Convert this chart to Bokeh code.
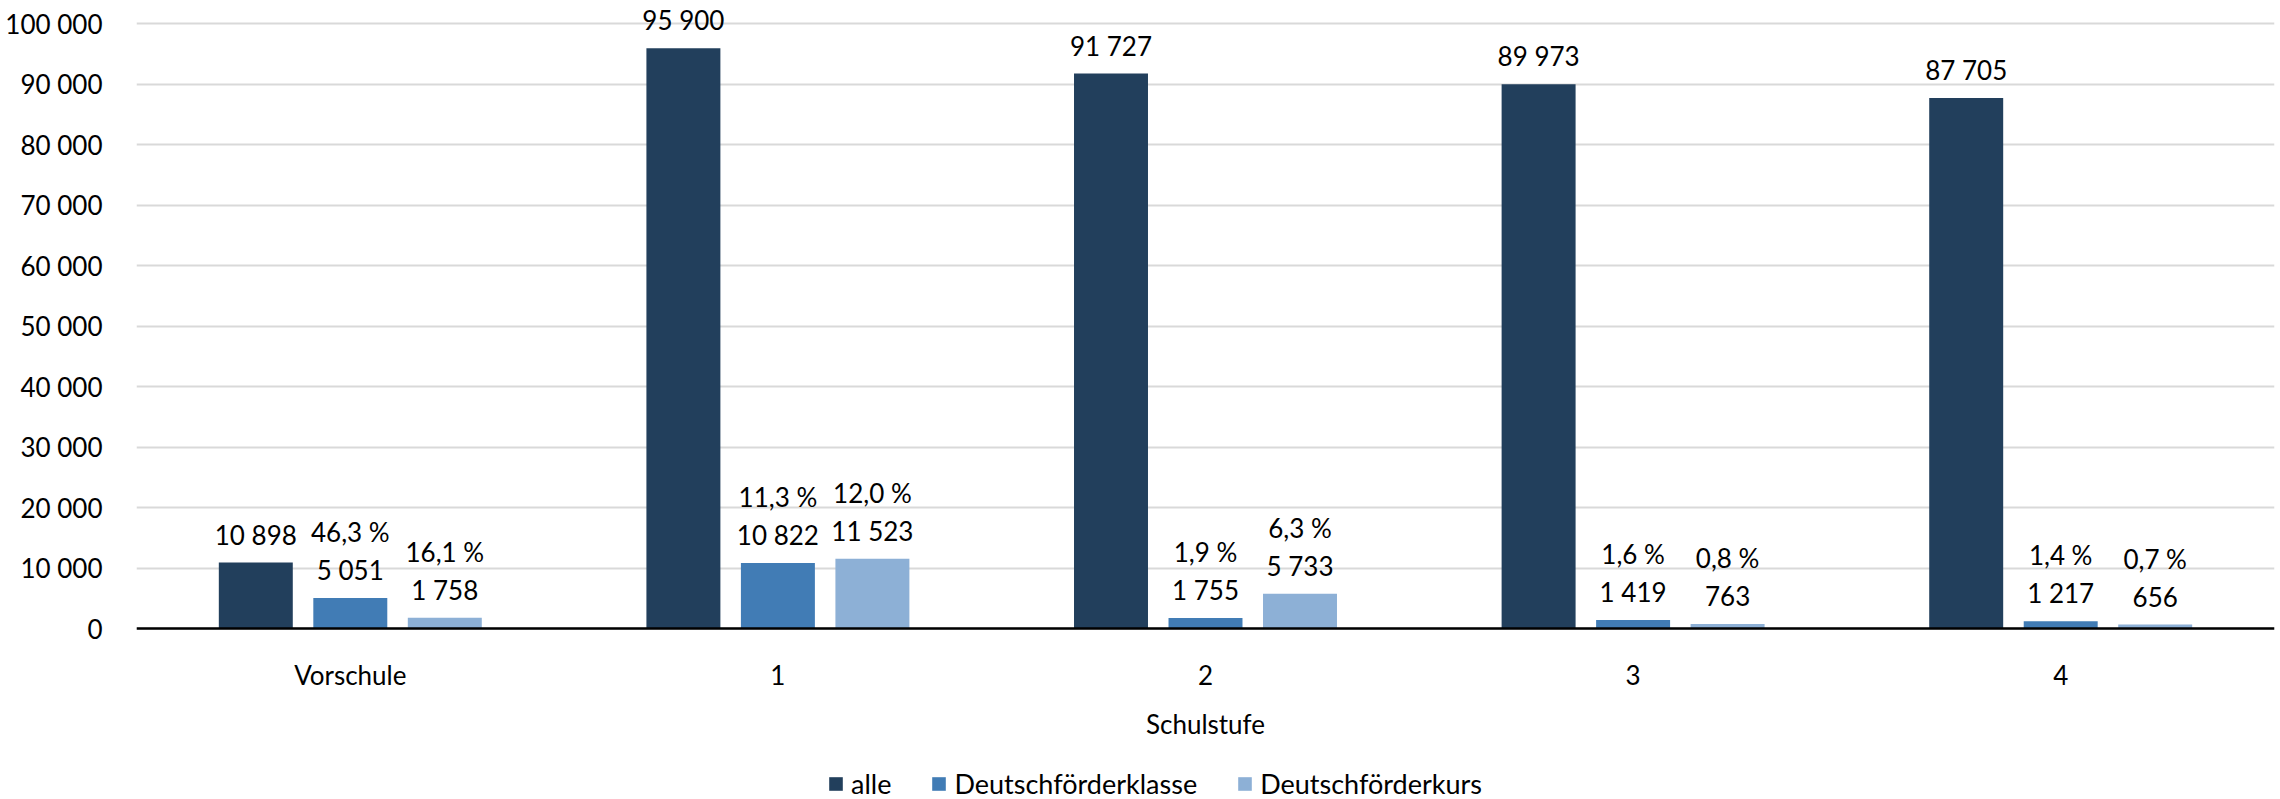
from bokeh.plotting import figure
from bokeh.models import (ColumnDataSource, FactorRange, Range1d, LabelSet, Legend,
                          LegendItem, FixedTicker, CustomJSTickFormatter)
from bokeh.transform import dodge
from bokeh.core.properties import value
from bokeh.embed import file_html
from bokeh.resources import INLINE

# ---- data ----
categories = ["Vorschule", "1", "2", "3", "4"]
alle = [10898, 95900, 91727, 89973, 87705]
klasse = [5051, 10822, 1755, 1419, 1217]
kurs = [1758, 11523, 5733, 763, 656]
klasse_pct = [46.3, 11.3, 1.9, 1.6, 1.4]
kurs_pct = [16.1, 12.0, 6.3, 0.8, 0.7]
y_ticks = [0, 10000, 20000, 30000, 40000, 50000, 60000, 70000, 80000, 90000, 100000]
series_names = ["alle", "Deutschförderklasse", "Deutschförderkurs"]
colors = ["#223F5C", "#417CB5", "#8DB0D6"]
x_title = "Schulstufe"


def fmt_int(n):
    return f"{n:,}".replace(",", " ")


def fmt_pct(v):
    return f"{v:.1f} %".replace(".", ",")


source = ColumnDataSource(dict(
    cat=categories,
    alle=alle, klasse=klasse, kurs=kurs,
    alle_txt=[fmt_int(v) for v in alle],
    klasse_txt=[fmt_int(v) for v in klasse],
    kurs_txt=[fmt_int(v) for v in kurs],
    klasse_pct_txt=[fmt_pct(v) for v in klasse_pct],
    kurs_pct_txt=[fmt_pct(v) for v in kurs_pct],
))

FONT = "Lato"
FS = "26px"
TXT = "#000000"

# frame spans the full height; y=0 sits at 628 px, 100 000 at 23 px
p = figure(x_range=FactorRange(*categories), y_range=Range1d(-28264, 103802),
           width=2280, height=799, output_backend="svg", toolbar_location=None,
           min_border_left=136, min_border_right=6, min_border_top=0, min_border_bottom=0)
p.outline_line_color = None
p.background_fill_color = "white"

off = 0.221
bw = 0.173
fields = ["alle", "klasse", "kurs"]
offsets = [-off, 0.0, off]
renderers = []
for f, o, c in zip(fields, offsets, colors):
    r = p.vbar(x=dodge("cat", o, range=p.x_range), top=f, bottom=0, width=bw, source=source,
               fill_color=c, line_color=None)
    renderers.append(r)

# value labels
for f, o in zip(fields, offsets):
    ls = LabelSet(x=dodge("cat", o, range=p.x_range), y=f, text=f + "_txt", source=source,
                  y_offset=28, text_align="center", text_baseline="middle",
                  text_font=value(FONT), text_font_size=value(FS), text_color=TXT)
    p.add_layout(ls)

# percentage labels
for f, o in zip(["klasse", "kurs"], offsets[1:]):
    ls = LabelSet(x=dodge("cat", o, range=p.x_range), y=f, text=f + "_pct_txt", source=source,
                  y_offset=66, text_align="center", text_baseline="middle",
                  text_font=value(FONT), text_font_size=value(FS), text_color=TXT)
    p.add_layout(ls)

# axes
p.yaxis.ticker = FixedTicker(ticks=y_ticks)
p.yaxis.formatter = CustomJSTickFormatter(
    code="return tick.toString().replace(/\\B(?=(\\d{3})+(?!\\d))/g, ' ');")
p.yaxis.axis_line_color = None
p.yaxis.major_tick_line_color = None
p.yaxis.minor_tick_line_color = None
p.yaxis.major_label_standoff = 28
p.yaxis.major_label_text_font = FONT
p.yaxis.major_label_text_font_size = FS
p.yaxis.major_label_text_color = TXT

p.xaxis.fixed_location = 0
p.xaxis.axis_line_color = "#000000"
p.xaxis.axis_line_width = 2.5
p.xaxis.major_tick_line_color = None
p.xaxis.minor_tick_line_color = None
p.xaxis.major_label_standoff = 24
p.xaxis.major_label_text_font = FONT
p.xaxis.major_label_text_font_size = FS
p.xaxis.major_label_text_color = TXT
p.xaxis.axis_label = x_title
p.xaxis.axis_label_standoff = 14
p.xaxis.axis_label_text_font = FONT
p.xaxis.axis_label_text_font_size = FS
p.xaxis.axis_label_text_font_style = "normal"
p.xaxis.axis_label_text_color = TXT

p.xgrid.grid_line_color = None
p.ygrid.grid_line_color = "#D9D9D9"
p.ygrid.grid_line_width = 2

legend = Legend(items=[LegendItem(label=n, renderers=[r]) for n, r in zip(series_names, renderers)],
                orientation="horizontal", location=(691, -1),
                glyph_width=17, glyph_height=17, label_standoff=7, spacing=39,
                padding=0, margin=0, border_line_color=None, background_fill_alpha=0,
                label_text_font=FONT, label_text_font_size="27px", label_text_color=TXT,
                label_height=30)
p.add_layout(legend, "center")

open("out.html", "w").write(file_html(p, INLINE))
